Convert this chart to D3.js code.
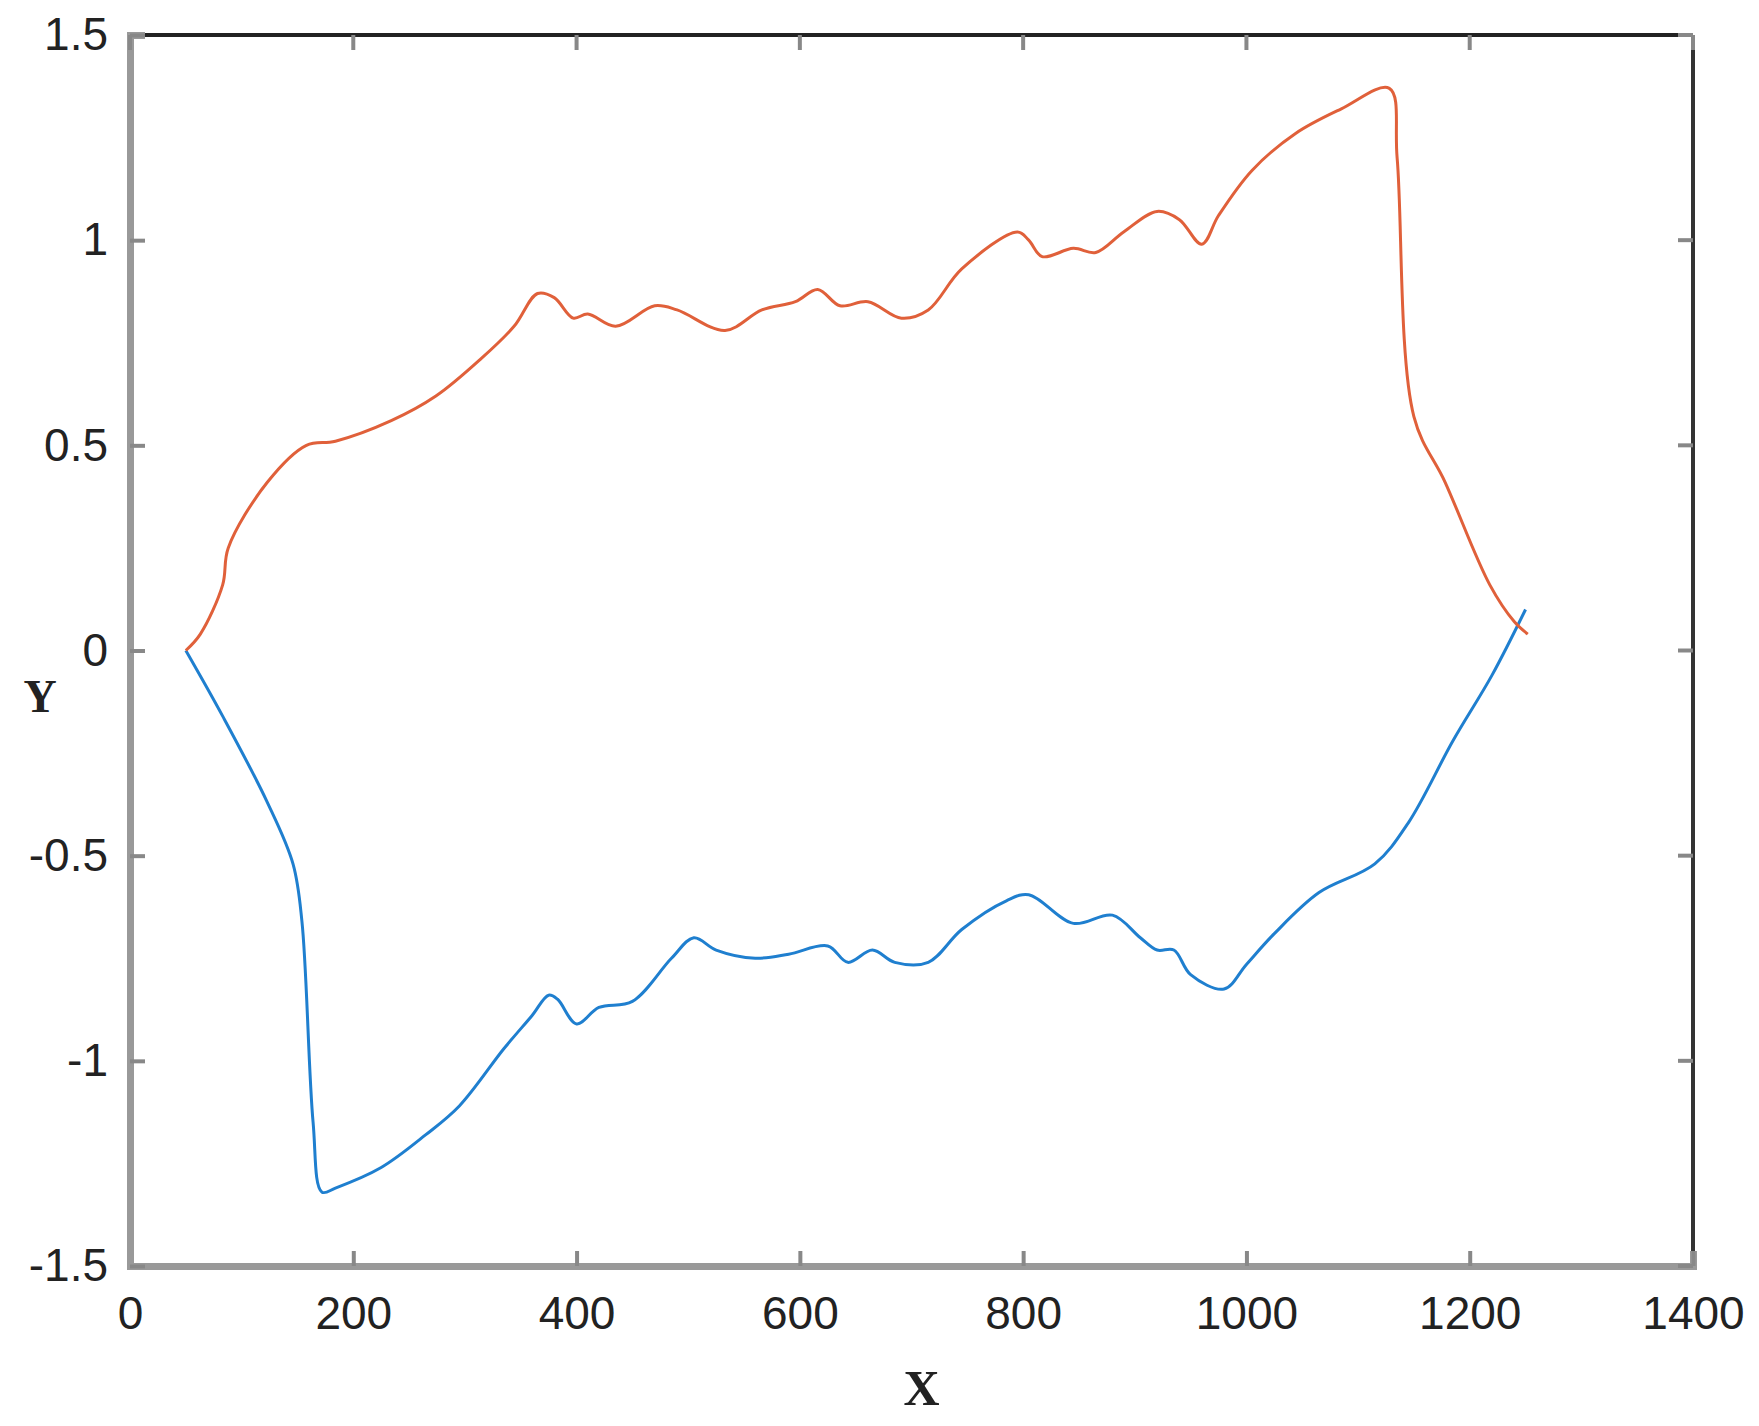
<!DOCTYPE html>
<html>
<head>
<meta charset="utf-8">
<script src="https://cdn.jsdelivr.net/npm/d3@7"></script>
<style>body{margin:0;background:#fff}</style>
</head>
<body>
<svg id="chart" width="1759" height="1426"></svg>
<script>
// upper curve (orange)
const upper_x=[50,63,83,88,123,158,184,234,274,314,344,365,380,397,410,435,470,490,533,566,596,616,636,661,691,715,745,795,805,817,845,865,890,920,940,960,975,1005,1044,1085,1128,1135,1150,1178,1218,1240,1252];
const upper_y=[0,0.04,0.16,0.25,0.41,0.50,0.51,0.56,0.62,0.71,0.79,0.87,0.86,0.81,0.82,0.79,0.84,0.83,0.78,0.83,0.85,0.88,0.84,0.85,0.81,0.83,0.93,1.02,1.00,0.96,0.98,0.97,1.02,1.07,1.05,0.99,1.06,1.17,1.26,1.32,1.37,1.20,0.57,0.41,0.16,0.07,0.04];
// lower curve (blue)
const lower_x=[50,83,123,146,154,164,172,184,225,265,295,335,360,375,383,400,420,450,485,505,525,560,590,625,643,665,685,715,745,785,805,845,880,905,920,935,950,980,1000,1025,1065,1115,1145,1185,1220,1250];
const lower_y=[0,-0.16,-0.37,-0.52,-0.66,-1.15,-1.32,-1.31,-1.26,-1.18,-1.11,-0.97,-0.89,-0.84,-0.85,-0.91,-0.87,-0.855,-0.75,-0.70,-0.73,-0.75,-0.74,-0.72,-0.76,-0.73,-0.76,-0.76,-0.68,-0.61,-0.595,-0.665,-0.645,-0.70,-0.73,-0.73,-0.79,-0.825,-0.765,-0.69,-0.59,-0.52,-0.42,-0.22,-0.06,0.10];
const x_ticks=[0,200,400,600,800,1000,1200,1400];
const y_ticks=[-1.5,-1,-0.5,0,0.5,1,1.5];

const svg=d3.select("#chart");
const m_left=130,m_top=35,m_right=1693,m_bottom=1266;
const x=d3.scaleLinear().domain([0,1400]).range([m_left,m_right]);
const y=d3.scaleLinear().domain([-1.5,1.5]).range([m_bottom,m_top]);

// frame
svg.append("line").attr("x1",m_left).attr("y1",m_top).attr("x2",m_right).attr("y2",m_top).attr("stroke","#222").attr("stroke-width",4);
svg.append("line").attr("x1",m_right).attr("y1",m_top).attr("x2",m_right).attr("y2",m_bottom).attr("stroke","#333").attr("stroke-width",4);

const xAxis=svg.append("g").attr("transform","translate(0,"+m_bottom+")")
    .call(d3.axisBottom(x).tickValues(x_ticks).tickSize(-15).tickPadding(30).tickFormat(d3.format("d")));
const yAxis=svg.append("g").attr("transform","translate("+m_left+",0)")
    .call(d3.axisLeft(y).tickValues(y_ticks).tickSize(-15).tickPadding(22).tickFormat(d=>String(d)));
for (const g of [xAxis,yAxis]){
    g.select(".domain").attr("stroke","#999").attr("stroke-width",7);
    g.selectAll(".tick line").attr("stroke","#888").attr("stroke-width",4);
    g.selectAll(".tick text").attr("font-family","Liberation Sans, Arial").attr("font-size",46).attr("fill","#222");
}
// top ticks and right ticks
for (const t of x_ticks){
    svg.append("line").attr("x1",x(t)).attr("x2",x(t)).attr("y1",m_top).attr("y2",m_top+15).attr("stroke","#888").attr("stroke-width",4);
}
for (const t of y_ticks){
    svg.append("line").attr("x1",m_right).attr("x2",m_right-15).attr("y1",y(t)).attr("y2",y(t)).attr("stroke","#888").attr("stroke-width",4);
}

const line=d3.line().x(d=>x(d[0])).y(d=>y(d[1])).curve(d3.curveCatmullRom.alpha(0.5));
svg.append("path").datum(d3.zip(lower_x,lower_y)).attr("d",line)
    .attr("fill","none").attr("stroke","#1f7fcf").attr("stroke-width",3);
svg.append("path").datum(d3.zip(upper_x,upper_y)).attr("d",line)
    .attr("fill","none").attr("stroke","#e0603a").attr("stroke-width",3);

svg.append("text").attr("x",(m_left+m_right)/2+10).attr("y",1405).attr("text-anchor","middle")
    .attr("font-family","Liberation Serif, Times New Roman").attr("font-weight","bold").attr("font-size",50).attr("fill","#222").text("X");
svg.append("text").attr("x",40).attr("y",y(-0.15)).attr("text-anchor","middle")
    .attr("font-family","Liberation Serif, Times New Roman").attr("font-weight","bold").attr("font-size",46).attr("fill","#222").text("Y");
</script>
</body>
</html>
